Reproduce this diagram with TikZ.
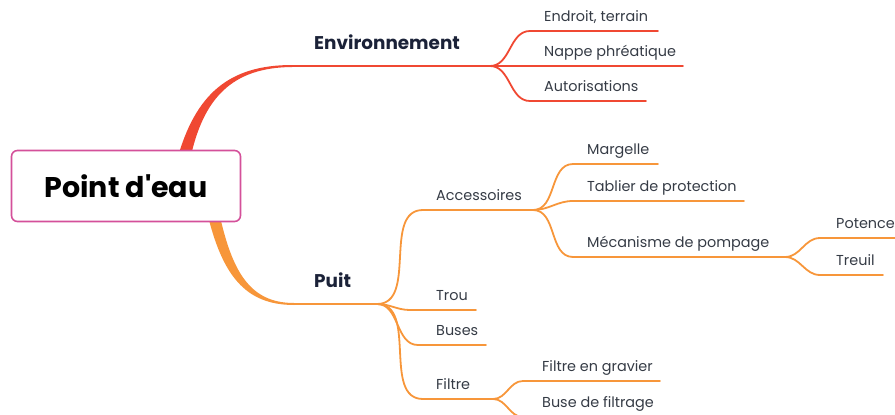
\documentclass[tikz,border=0pt]{standalone}
\usepackage{fontspec}
\setmainfont{Poppins}
\usepackage{tikz}
\definecolor{envred}{HTML}{F04832}
\definecolor{puitorange}{HTML}{F7963A}
\definecolor{rootpink}{HTML}{D4509A}
\definecolor{topictext}{HTML}{1B2238}
\definecolor{leaftext}{HTML}{353B45}

\begin{document}
\begin{tikzpicture}[
  x=1pt, y=-1pt,
  root/.style={draw=rootpink, line width=1.6pt, rounded corners=6pt, fill=white,
    minimum width=229pt, minimum height=71pt, font=\bfseries\fontsize{28.5}{29}\selectfont},
  topic/.style={anchor=base west, inner sep=0pt, text=topictext, font=\bfseries\fontsize{18.4}{19}\selectfont},
  leaf/.style={anchor=base west, inner sep=0pt, text=leaftext, font=\fontsize{14.4}{15}\selectfont},
  twig/.style={line width=1.8pt, line cap=round},
  sbend/.style={out=0, in=180},
]
\useasboundingbox (0,0) rectangle (895,415);

% main branches
\fill[envred] (177,160) .. controls (195,95) and (228,65) .. (292,65)
  -- (292,67) .. controls (232,67.5) and (203,98) .. (190,160) -- cycle;
\fill[puitorange] (207,212) .. controls (222,275) and (245,305) .. (294,305)
  -- (294,303) .. controls (250,303) and (232,272) .. (219,212) -- cycle;

\node[root] (root) at (126,186) {Point d\textquotesingle eau};

% Environnement
\coordinate (envstart) at (290,66);
\coordinate (envfork) at (490,66);
\node[topic] (env) at (314,49) {Environnement};
\draw[twig,envred] (envstart) -- (envfork);
\foreach \n/\t/\ly/\le in {endroit/{Endroit, terrain}/31/658, autor/Autorisations/101/646} {
  \coordinate (\n-s) at (530,\ly);
  \coordinate (\n-e) at (\le,\ly);
  \node[leaf] (\n) at (544,\ly-9.5) {\t};
  \draw[twig,envred] (envfork) to[sbend] (\n-s) -- (\n-e);
}
\coordinate (nappe-e) at (683,66);
\node[leaf] (nappe) at (544,56.5) {Nappe phréatique};
\draw[twig,envred] (envfork) -- (nappe-e);

% Puit
\coordinate (puitstart) at (292,304);
\coordinate (puitfork) at (377,304);
\node[topic] (puit) at (314,287) {Puit};
\draw[twig,puitorange] (puitstart) -- (puitfork);
\foreach \n/\t/\ly/\ls/\le in {access/Accessoires/210/423/533, trou/Trou/310/410/476,
    buses/Buses/345/418/486, filtre/Filtre/399/423/493} {
  \coordinate (\n-s) at (\ls,\ly);
  \coordinate (\n-e) at (\le,\ly);
  \node[leaf] (\n) at (436,\ly-9.5) {\t};
  \draw[twig,puitorange] (puitfork) to[sbend] (\n-s) -- (\n-e);
}

% Accessoires
\foreach \n/\t/\ly/\le in {margelle/Margelle/164/658, tablier/Tablier de protection/201/744,
    meca/Mécanisme de pompage/257/785} {
  \coordinate (\n-s) at (573,\ly);
  \coordinate (\n-e) at (\le,\ly);
  \node[leaf] (\n) at (587,\ly-9.5) {\t};
  \draw[twig,puitorange] (access-e) to[sbend] (\n-s) -- (\n-e);
}
\foreach \n/\t/\ly/\le in {potence/Potence/238/905, treuil/Treuil/275/883} {
  \coordinate (\n-s) at (820,\ly);
  \coordinate (\n-e) at (\le,\ly);
  \node[leaf] (\n) at (836,\ly-9.5) {\t};
  \draw[twig,puitorange] (meca-e) to[sbend] (\n-s) -- (\n-e);
}

% Filtre
\foreach \n/\t/\ly in {gravier/Filtre en gravier/381, buse/Buse de filtrage/417} {
  \coordinate (\n-s) at (523,\ly);
  \coordinate (\n-e) at (660,\ly);
  \node[leaf] (\n) at (542,\ly-9.5) {\t};
  \draw[twig,puitorange] (filtre-e) to[sbend] (\n-s) -- (\n-e);
}
\end{tikzpicture}
\end{document}
